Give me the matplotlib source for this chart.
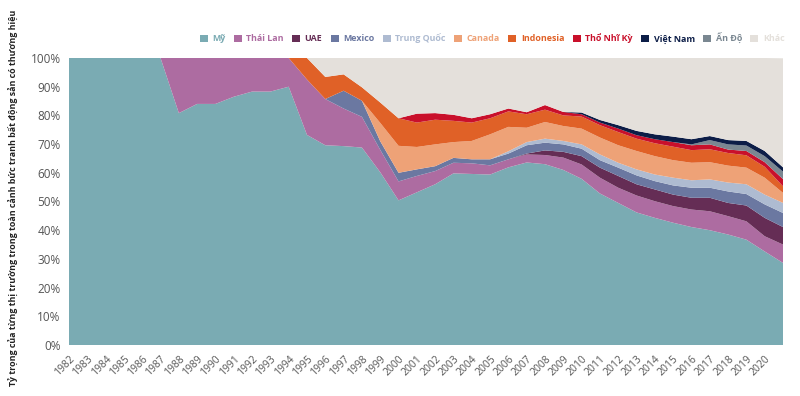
import numpy as np
import matplotlib
matplotlib.use("Agg")
import matplotlib.pyplot as plt
from matplotlib.patches import Patch

plt.rcParams['font.family'] = ['Open Sans', 'DejaVu Sans']

# Năm (điểm cuối 2021 không có nhãn)
years = list(range(1982, 2022))
tick_years = list(range(1982, 2021))

# Tỷ trọng (%) từng thị trường
my = [100, 100, 100, 100, 100, 100, 80.8, 84, 84, 86.5, 88.3, 88.3, 90, 73.2, 69.6, 69.3,
      68.8, 60.2, 50.4, 53.2, 56, 59.8, 59.6, 59.4, 61.9, 63.6, 63, 61, 57.9, 52.8, 49.5,
      46.2, 44.3, 42.6, 41.1, 40, 38.5, 36.7, 32.6, 28.6]
thai_lan = [0, 0, 0, 0, 0, 0, 19.2, 16, 16, 13.5, 11.7, 11.7, 10, 19.3, 16.1, 13.1, 10.7,
            7.8, 6.6, 5.7, 4.6, 3.7, 3.7, 3.2, 2.8, 2.8, 3.2, 4.3, 5.0, 5.5, 5.3, 5.9, 5.8,
            5.8, 6.1, 6.6, 6.4, 6.4, 5.3, 6.4]
uae = [0] * 25 + [0.3, 1.6, 2.0, 2.9, 3.5, 4.1, 3.9, 4.1, 4.0, 4.1, 4.7, 4.6, 5.5, 6.4, 6.1]
mexico = [0] * 15 + [6.2, 5.6, 3.0, 3.0, 2.3, 1.7, 1.7, 1.4, 2.1, 2.0, 2.9, 2.7, 2.6, 2.6,
                     2.6, 2.9, 3.1, 2.9, 3.2, 3.5, 3.5, 4.0, 4.0, 4.7, 4.9]
trung_quoc = [0] * 24 + [0.8, 1.1, 1.4, 1.2, 1.5, 2.0, 1.7, 2.1, 2.3, 2.7, 2.6, 2.9, 3.1,
                         3.4, 3.4, 3.5]
canada = [0] * 17 + [6.4, 9.4, 7.8, 7.6, 5.5, 6.4, 8.7, 8.5, 5.0, 5.8, 5.2, 5.5, 5.9, 6.1,
                     6.4, 6.4, 6.1, 6.1, 6.0, 5.9, 5.8, 5.9, 3.5]
indonesia = [0] * 13 + [7.5, 7.7, 5.7, 4.7, 7.1, 9.6, 8.5, 8.6, 7.4, 6.4, 5.6, 5.4, 4.7,
                        4.3, 3.7, 4.2, 4.3, 4.6, 4.3, 4.5, 4.7, 4.4, 4.5, 4.4, 4.3, 3.8, 2.3]
tho_nhi_ky = [0] * 19 + [3.1, 2.3, 2.1, 1.5, 1.4, 1.0, 0.7, 1.6, 1.2, 0.8, 0.9, 1.2, 1.2,
                         1.4, 1.6, 1.7, 1.7, 1.2, 1.5, 1.6, 2.5]
an_do = [0] * 34 + [0.3, 1.5, 1.8, 1.9, 2.1, 2.6]
viet_nam = [0] * 28 + [0.6, 0.9, 1.2, 1.5, 1.7, 1.9, 1.8, 1.4, 1.5, 1.6, 1.8, 1.5]
khac = [0] * 14 + [6.6, 5.7, 10.2, 15.5, 21, 19.4, 19.2, 19.8, 21, 19.6, 17.6, 18.9, 16.4,
                   18.8, 19.0, 21.6, 23.4, 25.4, 26.6, 27.4, 28.3, 27.2, 28.6, 28.9, 32.4, 38.0]

# thứ tự xếp chồng từ dưới lên
stack = [
    ("Mỹ", my, "#7AABB3"),
    ("Thái Lan", thai_lan, "#AD6CA1"),
    ("UAE", uae, "#652D55"),
    ("Mexico", mexico, "#6B78A1"),
    ("Trung Quốc", trung_quoc, "#AEBBD1"),
    ("Canada", canada, "#EEA277"),
    ("Indonesia", indonesia, "#E06127"),
    ("Thổ Nhĩ Kỳ", tho_nhi_ky, "#C9102B"),
    ("Ấn Độ", an_do, "#7A8791"),
    ("Việt Nam", viet_nam, "#0C1D47"),
    ("Khác", khac, "#E4E0DB"),
]
legend_order = ["Mỹ", "Thái Lan", "UAE", "Mexico", "Trung Quốc", "Canada", "Indonesia",
                "Thổ Nhĩ Kỳ", "Việt Nam", "Ấn Độ", "Khác"]
colors = {name: c for name, _, c in stack}

fig = plt.figure(figsize=(8, 3.96), dpi=100)
ax = fig.add_axes([69 / 800, 1 - 345 / 396, (783 - 69) / 800, (345 - 58) / 396])

ax.stackplot(years, *[s for _, s, _ in stack], colors=[c for _, _, c in stack],
             linewidth=0)

ax.set_xlim(1982, 2021)
ax.set_ylim(0, 100)
ax.set_yticks(range(0, 101, 10))
ax.set_yticklabels([f"{v}%" for v in range(0, 101, 10)], fontsize=8.5, color="#555555")
ax.set_xticks(tick_years)
ax.set_xticklabels([str(y) for y in tick_years], rotation=45, ha="right",
                   rotation_mode="anchor", fontsize=7.5, color="#555555")
ax.tick_params(axis="both", length=0, pad=6)
for sp in ax.spines.values():
    sp.set_visible(False)

fig.text(14 / 800, 0.5,
         "Tỷ trọng của từng thị trường trong toàn cảnh bức tranh bất động sản có thương hiệu",
         rotation=90, ha="center", va="center", fontsize=6.4, fontweight="bold",
         color="#222222")

handles = [Patch(facecolor=colors[n], edgecolor="none") for n in legend_order]
leg = fig.legend(handles, legend_order, loc="center right", bbox_to_anchor=(0.985, 1 - 38 / 396),
                 ncol=11, frameon=False, fontsize=6.4, handlelength=0.9, handleheight=0.9,
                 handletextpad=0.5, columnspacing=0.95, borderaxespad=0)
for t, n in zip(leg.get_texts(), legend_order):
    t.set_color(colors[n])
    t.set_fontweight("bold")

fig.savefig("out.png", dpi=100)
